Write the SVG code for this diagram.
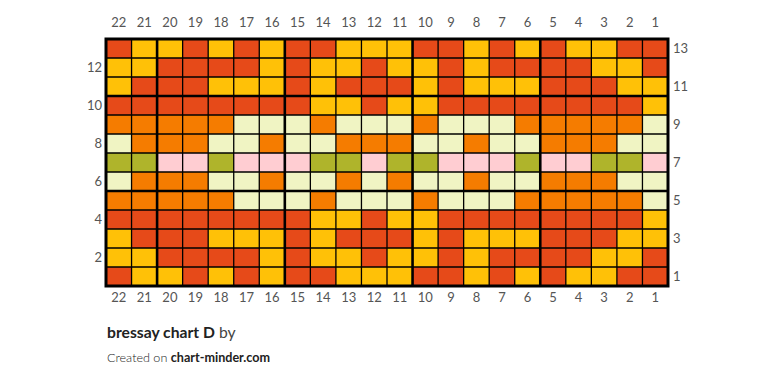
<svg xmlns="http://www.w3.org/2000/svg" xmlns:xlink="http://www.w3.org/1999/xlink" width="776" height="389" viewBox="0 0 776 389">
<style>
.R{fill:#E64A19}.Y{fill:#FFC107}.O{fill:#F57C00}.C{fill:#F0F4C3}.P{fill:#FFCDD2}.G{fill:#AFB42B}
.lbl{font-family:Lato,"Open Sans","Liberation Sans",sans-serif;font-size:13px;fill:#555;font-weight:400}
.ttl{font-family:Lato,"Open Sans","Liberation Sans",sans-serif;fill:#222}
</style>
<defs>
<g id="rA"><rect class="R" x="0" y="0" width="22" height="1"/><rect class="Y" x="1" y="0" width="2" height="1"/><rect class="Y" x="4" y="0" width="1" height="1"/><rect class="Y" x="6" y="0" width="1" height="1"/><rect class="Y" x="9" y="0" width="3" height="1"/><rect class="Y" x="14" y="0" width="1" height="1"/><rect class="Y" x="16" y="0" width="1" height="1"/><rect class="Y" x="18" y="0" width="2" height="1"/></g>
<g id="rB"><rect class="R" x="0" y="0" width="22" height="1"/><rect class="Y" x="0" y="0" width="2" height="1"/><rect class="Y" x="6" y="0" width="1" height="1"/><rect class="Y" x="8" y="0" width="2" height="1"/><rect class="Y" x="11" y="0" width="2" height="1"/><rect class="Y" x="14" y="0" width="1" height="1"/><rect class="Y" x="19" y="0" width="2" height="1"/></g>
<g id="rC"><rect class="R" x="0" y="0" width="22" height="1"/><rect class="Y" x="0" y="0" width="1" height="1"/><rect class="Y" x="4" y="0" width="3" height="1"/><rect class="Y" x="8" y="0" width="1" height="1"/><rect class="Y" x="12" y="0" width="1" height="1"/><rect class="Y" x="14" y="0" width="3" height="1"/><rect class="Y" x="20" y="0" width="2" height="1"/></g>
<g id="rD"><rect class="R" x="0" y="0" width="22" height="1"/><rect class="Y" x="8" y="0" width="2" height="1"/><rect class="Y" x="11" y="0" width="2" height="1"/><rect class="Y" x="21" y="0" width="1" height="1"/></g>
<g id="rE"><rect class="O" x="0" y="0" width="22" height="1"/><rect class="C" x="5" y="0" width="3" height="1"/><rect class="C" x="9" y="0" width="3" height="1"/><rect class="C" x="13" y="0" width="3" height="1"/><rect class="C" x="21" y="0" width="1" height="1"/></g>
<g id="r8"><rect class="O" x="0" y="0" width="22" height="1"/><rect class="C" x="0" y="0" width="1" height="1"/><rect class="C" x="4" y="0" width="2" height="1"/><rect class="C" x="7" y="0" width="2" height="1"/><rect class="C" x="12" y="0" width="2" height="1"/><rect class="C" x="15" y="0" width="2" height="1"/><rect class="C" x="20" y="0" width="2" height="1"/></g>
<g id="r7"><rect class="P" x="0" y="0" width="22" height="1"/><rect class="G" x="0" y="0" width="2" height="1"/><rect class="G" x="4" y="0" width="1" height="1"/><rect class="G" x="8" y="0" width="2" height="1"/><rect class="G" x="11" y="0" width="2" height="1"/><rect class="G" x="16" y="0" width="1" height="1"/><rect class="G" x="19" y="0" width="2" height="1"/></g>
<g id="r6"><rect class="O" x="0" y="0" width="22" height="1"/><rect class="C" x="0" y="0" width="1" height="1"/><rect class="C" x="4" y="0" width="2" height="1"/><rect class="C" x="7" y="0" width="2" height="1"/><rect class="C" x="10" y="0" width="1" height="1"/><rect class="C" x="12" y="0" width="2" height="1"/><rect class="C" x="15" y="0" width="2" height="1"/><rect class="C" x="20" y="0" width="2" height="1"/></g>
</defs>
<rect x="0" y="0" width="776" height="389" fill="#fff"/>
<g id="cells" transform="translate(106,39) scale(25.5455,19)" shape-rendering="crispEdges">
<use xlink:href="#rA" y="0"/>
<use xlink:href="#rB" y="1"/>
<use xlink:href="#rC" y="2"/>
<use xlink:href="#rD" y="3"/>
<use xlink:href="#rE" y="4"/>
<use xlink:href="#r8" y="5"/>
<use xlink:href="#r7" y="6"/>
<use xlink:href="#r6" y="7"/>
<use xlink:href="#rE" y="8"/>
<use xlink:href="#rD" y="9"/>
<use xlink:href="#rC" y="10"/>
<use xlink:href="#rB" y="11"/>
<use xlink:href="#rA" y="12"/>
</g>
<g id="gridlines" fill="none" stroke="#000">
<path stroke-width="1.3" d="M131.55 39V286M182.64 39V286M208.18 39V286M233.73 39V286M259.27 39V286M310.36 39V286M335.91 39V286M361.45 39V286M387 39V286M438.09 39V286M463.64 39V286M489.18 39V286M514.73 39V286M565.82 39V286M591.36 39V286M616.91 39V286M642.45 39V286M106 58H668M106 77H668M106 115H668M106 134H668M106 153H668M106 172H668M106 210H668M106 229H668M106 248H668M106 267H668"/>
<path stroke-width="2.6" d="M157.09 39V286M284.82 39V286M412.55 39V286M540.27 39V286M106 96H668M106 191H668"/>
<rect x="106" y="39" width="562" height="247" stroke-width="3"/>
</g>
<g id="top-labels" class="lbl" text-anchor="middle">
<text x="118.8" y="27">22</text><text x="144.3" y="27">21</text><text x="169.9" y="27">20</text><text x="195.4" y="27">19</text><text x="221" y="27">18</text><text x="246.5" y="27">17</text><text x="272" y="27">16</text><text x="297.6" y="27">15</text><text x="323.1" y="27">14</text><text x="348.7" y="27">13</text><text x="374.2" y="27">12</text><text x="399.8" y="27">11</text><text x="425.3" y="27">10</text><text x="450.9" y="27">9</text><text x="476.4" y="27">8</text><text x="501.9" y="27">7</text><text x="527.5" y="27">6</text><text x="553" y="27">5</text><text x="578.6" y="27">4</text><text x="604.1" y="27">3</text><text x="629.7" y="27">2</text><text x="655.2" y="27">1</text>
</g>
<g id="bottom-labels" class="lbl" text-anchor="middle">
<text x="118.8" y="302">22</text><text x="144.3" y="302">21</text><text x="169.9" y="302">20</text><text x="195.4" y="302">19</text><text x="221" y="302">18</text><text x="246.5" y="302">17</text><text x="272" y="302">16</text><text x="297.6" y="302">15</text><text x="323.1" y="302">14</text><text x="348.7" y="302">13</text><text x="374.2" y="302">12</text><text x="399.8" y="302">11</text><text x="425.3" y="302">10</text><text x="450.9" y="302">9</text><text x="476.4" y="302">8</text><text x="501.9" y="302">7</text><text x="527.5" y="302">6</text><text x="553" y="302">5</text><text x="578.6" y="302">4</text><text x="604.1" y="302">3</text><text x="629.7" y="302">2</text><text x="655.2" y="302">1</text>
</g>
<g id="left-labels" class="lbl" text-anchor="end">
<text x="102" y="72">12</text><text x="102" y="110">10</text><text x="102" y="148">8</text><text x="102" y="186">6</text><text x="102" y="224">4</text><text x="102" y="262">2</text>
</g>
<g id="right-labels" class="lbl">
<text x="673" y="53">13</text><text x="673" y="91">11</text><text x="673" y="129">9</text><text x="673" y="167">7</text><text x="673" y="205">5</text><text x="673" y="243">3</text><text x="673" y="281">1</text>
</g>
<text class="ttl" x="107" y="338" font-size="15.7"><tspan font-weight="bold">bressay chart D</tspan> <tspan fill="#444">by</tspan></text>
<text class="ttl" x="107" y="362" font-size="12.6" fill="#444" font-weight="300">Created on <tspan font-weight="bold" fill="#222">chart-minder.com</tspan></text>
</svg>
